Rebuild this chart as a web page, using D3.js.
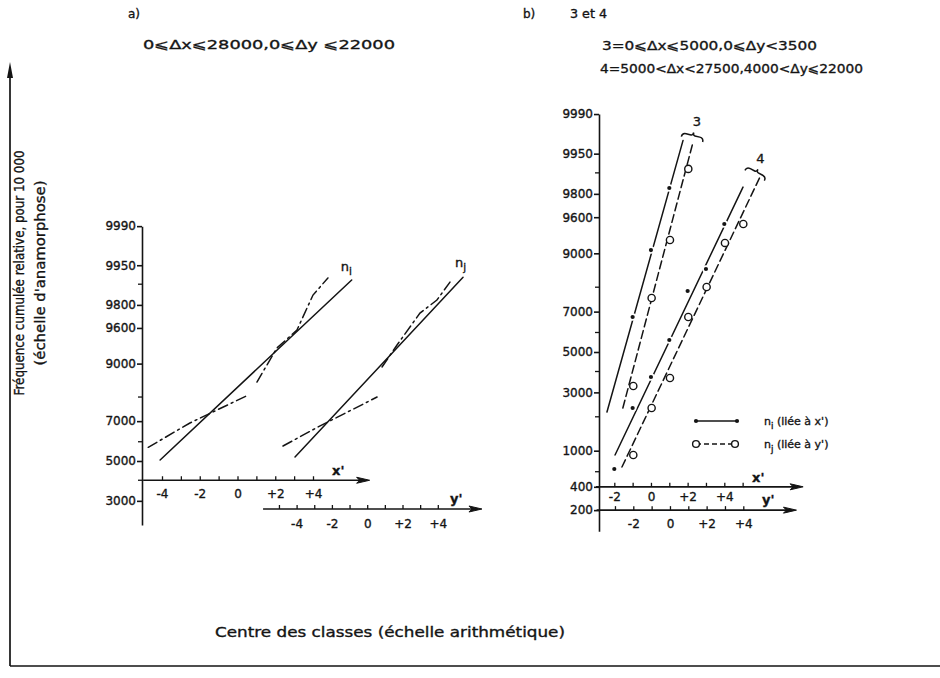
<!DOCTYPE html>
<html>
<head>
<meta charset="utf-8">
<script src="https://cdn.jsdelivr.net/npm/d3@7"></script>
<style>
  body { margin: 0; background: #fff; }
  svg { display: block; }
  text { font-family: "DejaVu Sans", sans-serif; fill: #141414; stroke: #141414; stroke-width: 0.35px; }
</style>
</head>
<body>
<script>
// probability paper, values are cumulated frequencies per 10 000

// y tick labels
const yLabelsA = [3000, 5000, 7000, 9000, 9600, 9800, 9950, 9990];
const yMinorA = [4000, 6000, 8000, 9900];
const yLabelsB = [200, 400, 1000, 3000, 5000, 7000, 9000, 9600, 9800, 9950, 9990];
const yMinorB = [600, 2000, 4000, 6000, 8000, 9900];

// class centre ticks
const ticksAx = [-4, -3, -2, -1, 0, 1, 2, 3, 4];
const ticksAy = [-5, -4, -3, -2, -1, 0, 1, 2, 3, 4];
const ticksBx = [-2, -1, 0, 1, 2, 3, 4, 5];
const ticksBy = [-3, -2, -1, 0, 1, 2, 3, 4];

// a) n_i against x'  [class, freq]
const aFitI = [[-4.1, 5050], [6.05, 9914]];
const aEmpILow = [[-4.73, 5714], [-2.52, 6915], [0.57, 8073]];
const aEmpIHigh = [[1.03, 8506], [2.09, 9315], [3.15, 9576], [4.0, 9855], [4.79, 9920]];
// a) n_j against y'
const aFitJ = [[-4.09, 5211], [5.43, 9922]];
const aEmpJLow = [[-4.77, 5781], [-2.79, 6727], [0.56, 8000]];
const aEmpJHigh = [[0.84, 8920], [1.69, 9365], [2.99, 9742], [3.95, 9829], [4.69, 9907]];

// b) group 3
const b3ClassX = [-1, 0, 1];
const b3Ni = [6753, 9073, 9834];
const b3FitI = [[-2.4, 2180], [1.75, 9970]];
const b3ClassY = [-2, -1, 0, 1];
const b3Nj = [3293, 7584, 9271, 9913];
const b3FitJ = [[-2.57, 2336], [1.25, 9967]];
// b) group 4
const b4Class = [-2, -1, 0, 1, 2, 3, 4];
const b4Ni = [643, 2336, 3726, 5620, 7858, 8595, 9518];
const b4Nj = [905, 2336, 3677, 6753, 8007, 9216, 9518];
const b4FitI = [[-1.96, 905], [5.02, 9839]];
const b4FitJ = [[-2.62, 676], [4.91, 9885]];

const braceNames = ['3', '4'];

// inverse normal cdf (Acklam), used for the anamorphosed axis
function probit(p) {
  const a = [-39.69683028665376, 220.9460984245205, -275.9285104469687, 138.3577518672690, -30.66479806614716, 2.506628277459239];
  const b = [-54.47609879822406, 161.5858368580409, -155.6989798598866, 66.80131188771972, -13.28068155288572];
  const c = [-0.007784894002430293, -0.3223964580411365, -2.400758277161838, -2.549732539343734, 4.374664141464968, 2.938163982698783];
  const d = [0.007784695709041462, 0.3224671290700398, 2.445134137142996, 3.754408661907416];
  const pl = 0.02425;
  let q, r;
  if (p < pl) {
    q = Math.sqrt(-2 * Math.log(p));
    return (((((c[0]*q+c[1])*q+c[2])*q+c[3])*q+c[4])*q+c[5]) / ((((d[0]*q+d[1])*q+d[2])*q+d[3])*q+1);
  }
  if (p > 1 - pl) {
    q = Math.sqrt(-2 * Math.log(1 - p));
    return -(((((c[0]*q+c[1])*q+c[2])*q+c[3])*q+c[4])*q+c[5]) / ((((d[0]*q+d[1])*q+d[2])*q+d[3])*q+1);
  }
  q = p - 0.5; r = q * q;
  return (((((a[0]*r+a[1])*r+a[2])*r+a[3])*r+a[4])*r+a[5])*q / (((((b[0]*r+b[1])*r+b[2])*r+b[3])*r+b[4])*r+1);
}

const ink = '#141414';
const svg = d3.select('body').append('svg').attr('width', 940).attr('height', 678);

// scales
const xA = d3.scaleLinear().domain([-4, 4]).range([162, 313]);
const yA = d3.scaleLinear().domain([-4, 4]).range([296.6, 437.8]);
const zA = d3.scaleLinear().domain([0, 1]).range([461, 385]);
const xB = d3.scaleLinear().domain([-2, 4]).range([614.3, 724.3]);
const yB = d3.scaleLinear().domain([-2, 4]).range([633.3, 743.3]);
const zB = d3.scaleLinear().domain([0, 1]).range([352, 275]);

function freqScale(z, lo, hi) {
  const s = v => z(probit(v / 10000));
  s.range = () => [s(lo), s(hi)];
  s.copy = () => s;
  return s;
}
const fA = freqScale(zA, 2000, 9990);
const fB = freqScale(zB, 100, 9990);

// frame
svg.append('path').attr('d', 'M10,666V72M10,666H940')
  .attr('fill', 'none').attr('stroke', ink).attr('stroke-width', 1.7);
svg.append('path').attr('d', 'M10,62L7,78L13,78Z').attr('fill', ink);

function arrowRight(x, y) {
  svg.append('path').attr('d', `M${x},${y}L${x-13},${y-3}L${x-10},${y}L${x-13},${y+3}Z`).attr('fill', ink).attr('stroke', ink).attr('stroke-width', 1);
}

function yAxis(s, x, labels, minor) {
  const g = svg.append('g').attr('transform', `translate(${x},0)`)
    .call(d3.axisLeft(s).tickValues(labels).tickSizeInner(5).tickSizeOuter(0)
      .tickPadding(1).tickFormat(d => String(d)));
  g.attr('font-family', null).attr('font-size', 12);
  g.selectAll('path, line').attr('stroke', ink).attr('stroke-width', 1.6);
  g.selectAll('.minor').data(minor).join('line').attr('class', 'minor')
    .attr('x1', -4).attr('x2', 0).attr('y1', s).attr('y2', s)
    .attr('stroke', ink).attr('stroke-width', 1.3);
}

const signFmt = d => (d % 2 !== 0) ? '' : d > 0 ? '+' + d : String(d);

function xAxis(scale, y, ticks, extent, pad) {
  const g = svg.append('g').attr('transform', `translate(0,${y})`)
    .call(d3.axisBottom(scale).tickValues(ticks).tickSizeInner(-4).tickSizeOuter(0)
      .tickPadding(pad).tickFormat(signFmt));
  g.attr('font-family', null).attr('font-size', 12);
  g.select('.domain').remove();
  g.selectAll('line').attr('stroke', ink).attr('stroke-width', 1.3);
  g.append('line').attr('x1', scale(extent[0])).attr('x2', scale(extent[1]) - 8)
    .attr('stroke', ink).attr('stroke-width', 1.7);
  arrowRight(scale(extent[1]), y);
}

// panel a axes
yAxis(fA, 142, yLabelsA, yMinorA);
xAxis(xA, fA(4000), ticksAx, [-5, 7], 9);
xAxis(yA, 509, ticksAy, [-5.9, 6.5], 10);
// panel b axes
yAxis(fB, 599, yLabelsB, yMinorB);
xAxis(xB, fB(400), ticksBx, [-3, 8.3], 6);
xAxis(yB, fB(200), ticksBy, [-4, 6.9], 9);

function axisName(x, y, t) {
  svg.append('text').attr('x', x).attr('y', y).attr('font-size', 13)
    .attr('font-family', 'Liberation Serif').attr('font-weight', 'bold').text(t);
}
axisName(332, 475, "x'");
axisName(450, 503, "y'");
axisName(752, 482, "x'");
axisName(762, 504, "y'");

// lines
const mk = (xs, f) => d3.line().x(d => xs(d[0])).y(d => f(d[1]));
function drawLine(data, xs, f, dash) {
  svg.append('path').datum(data).attr('d', mk(xs, f))
    .attr('fill', 'none').attr('stroke', ink).attr('stroke-width', 1.5)
    .attr('stroke-dasharray', dash || null).attr('stroke-linecap', 'round');
}
const dashDot = '10,4,2,4';

drawLine(aFitI, xA, fA);
drawLine(aEmpILow, xA, fA, dashDot);
drawLine(aEmpIHigh, xA, fA, dashDot);
drawLine(aFitJ, yA, fA);
drawLine(aEmpJLow, yA, fA, dashDot);
drawLine(aEmpJHigh, yA, fA, dashDot);

function subLabel(x, y, sub, rest, size) {
  const t = svg.append('text').attr('x', x).attr('y', y).attr('font-size', size);
  t.append('tspan').text('n');
  t.append('tspan').attr('dy', 4).attr('font-size', size * 0.8).text(sub);
  if (rest) t.append('tspan').attr('dy', -4).text(rest);
}
const endA = (d, xs) => [xs(d[d.length - 1][0]), fA(d[d.length - 1][1])];
const eI = endA(aFitI, xA), eJ = endA(aFitJ, yA);
subLabel(eI[0] - 11, eI[1] - 9, 'i', null, 13);
subLabel(eJ[0] - 8, eJ[1] - 10, 'j', null, 13);

// panel b lines
const dashB = '8,4';
drawLine(b3FitI, xB, fB);
drawLine(b3FitJ, yB, fB, dashB);
drawLine(b4FitI, xB, fB);
drawLine(b4FitJ, yB, fB, dashB);

function dots(cls, vals, xs) {
  const pts = cls.map((c, i) => [xs(c), fB(vals[i])]);
  svg.append('g').selectAll('circle').data(pts).join('circle')
    .attr('cx', d => d[0]).attr('cy', d => d[1]).attr('r', 3.8).attr('fill', '#fff');
  svg.append('g').selectAll('circle').data(pts).join('circle')
    .attr('cx', d => d[0]).attr('cy', d => d[1]).attr('r', 2.1).attr('fill', ink);
}
function rings(cls, vals, xs) {
  svg.append('g').selectAll('circle').data(cls.map((c, i) => [xs(c), fB(vals[i])])).join('circle')
    .attr('cx', d => d[0]).attr('cy', d => d[1]).attr('r', 3.6)
    .attr('fill', '#fff').attr('stroke', ink).attr('stroke-width', 1.4);
}
dots(b3ClassX, b3Ni, xB);
rings(b3ClassY, b3Nj, yB);
dots(b4Class, b4Ni, xB);
rings(b4Class, b4Nj, yB);

// braces over group ends
const braceTilt = [14, 28];
[[b3FitI, b3FitJ], [b4FitI, b4FitJ]].forEach((pair, k) => {
  const pI = [xB(pair[0][1][0]), fB(pair[0][1][1])];
  const pJ = [yB(pair[1][1][0]), fB(pair[1][1][1])];
  const cx = (pI[0] + pJ[0]) / 2 + 5, cy = Math.min(pI[1], pJ[1]) - 5;
  const w = 11;
  svg.append('path')
    .attr('d', `M${-w},4Q${-w},0 ${-w + 4},0L-2,0Q0,0 0,-3Q0,0 2,0L${w - 4},0Q${w},0 ${w},4`)
    .attr('transform', `translate(${cx},${cy}) rotate(${braceTilt[k]})`)
    .attr('fill', 'none').attr('stroke', ink).attr('stroke-width', 1.5);
  svg.append('text').attr('x', cx + 4).attr('y', cy - 9).attr('font-size', 13)
    .attr('text-anchor', 'middle').text(braceNames[k]);
});

// legend
const lg = svg.append('g');
lg.append('line').attr('x1', 696).attr('x2', 737).attr('y1', 421).attr('y2', 421)
  .attr('stroke', ink).attr('stroke-width', 1.5);
[696, 737].forEach(x => lg.append('circle').attr('cx', x).attr('cy', 421).attr('r', 2.1).attr('fill', ink));
lg.append('line').attr('x1', 696).attr('x2', 735).attr('y1', 444).attr('y2', 444)
  .attr('stroke', ink).attr('stroke-width', 1.4).attr('stroke-dasharray', '5,3');
[696, 735].forEach(x => lg.append('circle').attr('cx', x).attr('cy', 444).attr('r', 3.4)
  .attr('fill', '#fff').attr('stroke', ink).attr('stroke-width', 1.4));
subLabel(764, 425, 'i', " (liée à x')", 11);
subLabel(764, 448, 'j', " (liée à y')", 11);

// titles
function txt(x, y, t, size, len) {
  const e = svg.append('text').attr('x', x).attr('y', y).attr('font-size', size).text(t);
  if (len) e.attr('textLength', len).attr('lengthAdjust', 'spacingAndGlyphs');
  return e;
}
txt(128, 18, 'a)', 12);
txt(143, 49, '0⩽Δx⩽28000,0⩽Δy ⩽22000', 13, 252);
txt(523, 18, 'b)', 12);
txt(570, 18, '3 et 4', 12, 37);
txt(602, 50, '3=0⩽Δx⩽5000,0⩽Δy<3500', 13, 215);
txt(600, 73, '4=5000<Δx<27500,4000<Δy⩽22000', 13, 263);
txt(215, 637, 'Centre des classes (échelle arithmétique)', 14, 350);

svg.append('text').attr('transform', 'translate(19,273) rotate(-90)').attr('dy', '0.35em')
  .attr('text-anchor', 'middle').attr('font-size', 13.5).attr('textLength', 245)
  .attr('lengthAdjust', 'spacingAndGlyphs').text('Fréquence cumulée relative, pour 10 000');
svg.append('text').attr('transform', 'translate(40,273) rotate(-90)').attr('dy', '0.35em')
  .attr('text-anchor', 'middle').attr('font-size', 13.5).attr('textLength', 185)
  .attr('lengthAdjust', 'spacingAndGlyphs').text("(échelle d'anamorphose)");
</script>
</body>
</html>
